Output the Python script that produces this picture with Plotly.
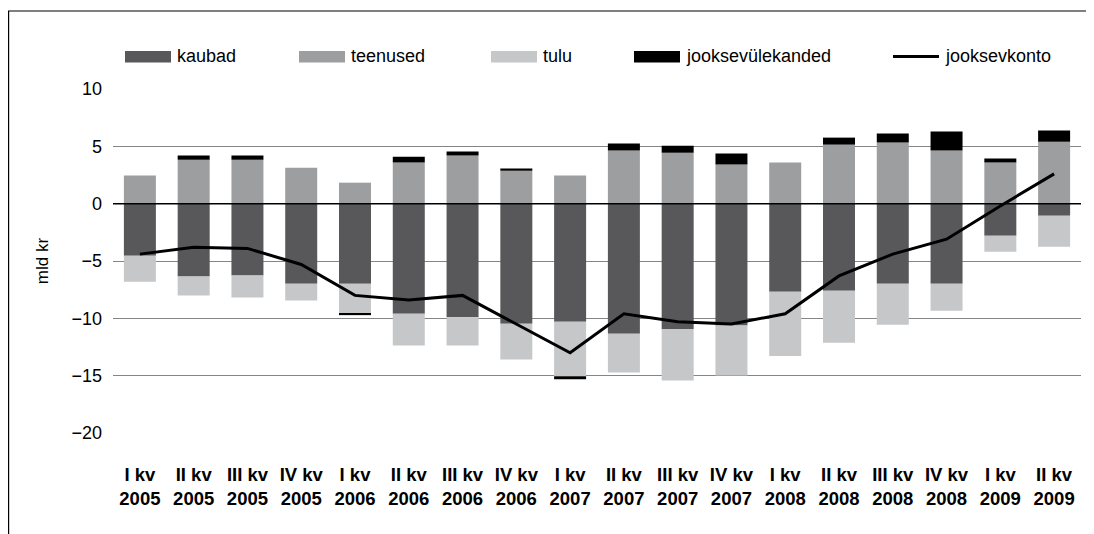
"""Eesti jooksevkonto komponendid kvartalite kaupa (mld kr)."""

import plotly.graph_objects as go

quarters = [
    "I kv<br>2005", "II kv<br>2005", "III kv<br>2005", "IV kv<br>2005",
    "I kv<br>2006", "II kv<br>2006", "III kv<br>2006", "IV kv<br>2006",
    "I kv<br>2007", "II kv<br>2007", "III kv<br>2007", "IV kv<br>2007",
    "I kv<br>2008", "II kv<br>2008", "III kv<br>2008", "IV kv<br>2008",
    "I kv<br>2009", "II kv<br>2009",
]
kaubad = [-4.55, -6.35, -6.26, -6.99, -6.99, -9.6, -9.9, -10.48, -10.3,
          -11.35, -10.92, -10.63, -7.69, -7.6, -6.99, -6.99, -2.79, -1.05]
teenused = [2.45, 3.84, 3.84, 3.14, 1.83, 3.58, 4.19, 2.88, 2.45,
            4.63, 4.45, 3.41, 3.58, 5.15, 5.33, 4.63, 3.58, 5.41]
tulu = [-2.25, -1.65, -1.92, -1.46, -2.61, -2.77, -2.47, -3.12, -4.75,
        -3.38, -4.51, -4.36, -5.59, -4.54, -3.58, -2.35, -1.4, -2.71]
ulekanded = [0, 0.35, 0.35, 0, -0.12, 0.52, 0.35, 0.18, -0.26,
             0.61, 0.61, 0.96, 0, 0.61, 0.78, 1.66, 0.35, 0.96]
jooksevkonto = [-4.4, -3.8, -3.9, -5.3, -8.0, -8.4, -8.0, -10.5, -13.0,
                -9.6, -10.3, -10.5, -9.6, -6.3, -4.4, -3.1, -0.2, 2.6]

FONT = "Liberation Sans, Arial, sans-serif"
# lehe <body> vaikimisi 8px veeris nihutab joonist, seega joonis on 8px väiksem
PAGE = 8
W, H = 1094 - PAGE, 534 - PAGE
M = {"l": 113 - PAGE, "r": 13, "t": 89 - PAGE, "b": 101}

BARS = [
    ("kaubad", kaubad, "#58585a"),
    ("teenused", teenused, "#9d9ea0"),
    ("tulu", tulu, "#c6c7c9"),
    ("jooksevülekanded", ulekanded, "#000000"),
]
# legendi kirjete algus (px vasakult, ekraanil)
LEGEND_X = [125, 299, 491, 634, 893]


def px_x(px):
    return (px - PAGE - M["l"]) / (W - M["l"] - M["r"])


def px_y(py):
    return (H - M["b"] - (py - PAGE)) / (H - M["t"] - M["b"])


fig = go.Figure()
for name, values, color in BARS:
    fig.add_trace(go.Bar(x=quarters, y=values, name=name, marker_color=color,
                         marker_line_width=0))

fig.add_trace(
    go.Scatter(
        x=quarters,
        y=jooksevkonto,
        name="jooksevkonto",
        mode="lines",
        line={"color": "black", "width": 3},
    )
)

# horisontaaltelg nullis üle tulpade nagu Excelis
fig.add_hline(y=0, line_color="black", line_width=1.5, layer="above")

# legend: pikad ristkülikud nagu originaalis
legend_items = [(n, c) for n, _, c in BARS] + [("jooksevkonto", None)]
for (name, color), x0 in zip(legend_items, LEGEND_X):
    if color is None:
        fig.add_shape(type="line", xref="paper", yref="paper",
                      x0=px_x(x0), x1=px_x(x0 + 46), y0=px_y(56.5), y1=px_y(56.5),
                      line={"color": "black", "width": 3})
    else:
        fig.add_shape(type="rect", xref="paper", yref="paper",
                      x0=px_x(x0), x1=px_x(x0 + 46), y0=px_y(62.5), y1=px_y(51),
                      fillcolor=color, line_width=0)
    fig.add_annotation(text=name, xref="paper", yref="paper",
                       x=px_x(x0 + 50), y=px_y(56.5), xanchor="left",
                       yanchor="middle", showarrow=False,
                       font={"size": 18, "color": "black"})

# raam ümber graafiku
fig.add_shape(type="rect", xref="paper", yref="paper",
              x0=px_x(8.6), x1=px_x(1094 + 20), y0=px_y(534 + 20), y1=px_y(11),
              line={"color": "black", "width": 1.2})

fig.update_layout(
    width=W,
    height=H,
    margin=M,
    paper_bgcolor="white",
    plot_bgcolor="white",
    barmode="relative",
    bargap=0.405,
    font={"family": FONT, "size": 18, "color": "black"},
    showlegend=False,
)
fig.update_xaxes(
    showgrid=False,
    showline=False,
    ticks="",
    tickfont={"family": FONT, "size": 18.5, "weight": "bold"},
    ticklabelstandoff=28,
)
fig.update_yaxes(
    range=[-20, 10],
    dtick=5,
    showgrid=True,
    gridcolor="#858585",
    gridwidth=1.3,
    zeroline=False,
    ticks="",
    ticklabelstandoff=10,
    title={"text": "mld kr", "font": {"size": 17}, "standoff": 18},
)

fig.write_html("out.html")
